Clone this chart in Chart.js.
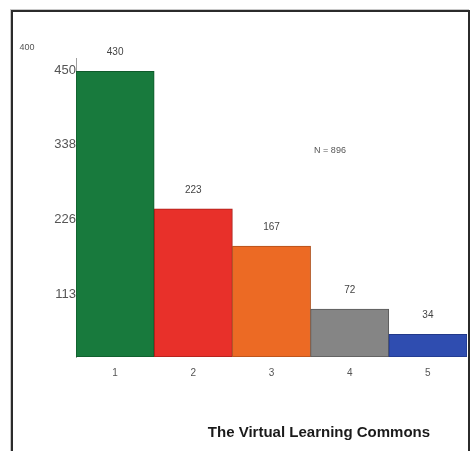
<!DOCTYPE html>
<html>
<head>
<meta charset="utf-8">
<script src="https://cdn.jsdelivr.net/npm/chart.js@4.4.0/dist/chart.umd.min.js"></script>
<style>
html,body{margin:0;padding:0;background:#fff;}
#wrap{position:relative;width:472px;height:451px;overflow:hidden;}
#frame{position:absolute;left:11px;top:10px;width:455px;height:460px;border:2px solid #2b2b2b;border-bottom:none;box-shadow:-1px -1px 0 #c8c8c8;pointer-events:none;}
canvas{position:absolute;left:0;top:0;}
</style>
</head>
<body>
<div id="wrap">
<canvas id="c" width="472" height="451"></canvas>
<div id="frame"></div>
</div>
<script>
const categories = ["1", "2", "3", "4", "5"];
const counts = [430, 223, 167, 72, 34];
const barColors = ["#187a3d", "#e8302a", "#ec6a24", "#858585", "#2f4db0"];
const barBorders = ["#0f5a2b", "#a81f1a", "#b04f1a", "#5a5a5a", "#22398a"];
const yTickValues = [0, 112.5, 225, 337.5, 450];
const yTickLabels = ["", "113", "226", "338", "450"];
const axisNote = "400";
const sampleNote = "N = 896";
const chartTitle = "The Virtual Learning Commons";

const FONT = "'Liberation Sans', Arial, Helvetica, sans-serif";

const extras = {
  id: "extras",
  afterDatasetsDraw(chart) {
    const ctx = chart.ctx;
    const meta = chart.getDatasetMeta(0);
    ctx.save();
    ctx.fillStyle = "#444";
    ctx.font = "10px " + FONT;
    ctx.textAlign = "center";
    ctx.textBaseline = "middle";
    meta.data.forEach((bar, i) => {
      ctx.fillText(String(counts[i]), bar.x, bar.y - 19);
    });
    ctx.restore();
  },
  afterDraw(chart) {
    const ctx = chart.ctx;
    ctx.save();
    ctx.fillStyle = "#555";
    ctx.textBaseline = "middle";
    ctx.textAlign = "center";
    ctx.font = "9px " + FONT;
    ctx.fillText(axisNote, 27, 48);
    ctx.fillText(sampleNote, 330, 151);
    ctx.fillStyle = "#1a1a1a";
    ctx.font = "bold 15px " + FONT;
    ctx.fillText(chartTitle, 319, 433);
    ctx.restore();
  }
};

new Chart(document.getElementById("c"), {
  type: "bar",
  data: {
    labels: categories,
    datasets: [{
      data: counts,
      backgroundColor: barColors,
      borderColor: barBorders,
      borderWidth: 1,
      borderSkipped: false,
      categoryPercentage: 1.0,
      barPercentage: 1.0
    }]
  },
  options: {
    responsive: false,
    animation: false,
    devicePixelRatio: 1,
    layout: { padding: { left: 0, right: 5, top: 58, bottom: 0 } },
    plugins: { legend: { display: false }, tooltip: { enabled: false }, title: { display: false } },
    scales: {
      x: {
        grid: { display: false, drawTicks: false },
        border: { display: false },
        ticks: { color: "#555", font: { size: 10, family: FONT }, padding: 10 },
        afterFit(scale) { scale.height = 94; }
      },
      y: {
        min: 0,
        max: 450,
        afterBuildTicks(scale) { scale.ticks = yTickValues.map(v => ({ value: v })); },
        grid: { display: false, drawTicks: false },
        border: { display: true, color: "#a0a0a0", width: 1 },
        ticks: {
          color: "#555",
          font: { size: 13, family: FONT },
          padding: 0,
          labelOffset: 12,
          callback(value, index) { return yTickLabels[index]; }
        },
        afterFit(scale) { scale.width = 76; }
      }
    }
  },
  plugins: [extras]
});
</script>
</body>
</html>
